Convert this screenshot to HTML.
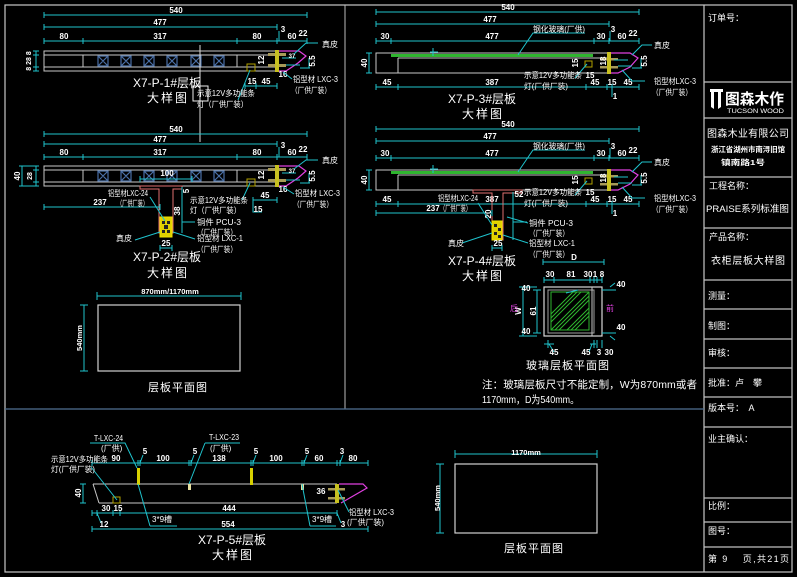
<!DOCTYPE html>
<html><head><meta charset="utf-8"><style>
html,body{margin:0;padding:0;background:#000;}
svg{display:block;}
text{font-family:"Liberation Sans","Noto Sans CJK SC",sans-serif;fill:#fff;}
.d{stroke:#1fc3cd;stroke-width:1;fill:none}
.dt{font-size:8px;font-weight:bold;text-anchor:middle}
.lb{font-size:8px}
.ti{font-size:12px;text-anchor:middle}
.g{stroke:#c8c8c8;fill:none;stroke-width:1}
.tb{font-size:9px}
.mg{stroke:#e040e0;fill:none;stroke-width:1.2}
.bx{stroke:#4a6fa5;fill:none;stroke-width:1.2}
</style></head><body>
<svg width="797" height="577" viewBox="0 0 797 577">
<rect x="0" y="0" width="797" height="577" fill="#000"/>
<!-- frame -->
<rect x="5" y="5" width="787" height="567" fill="none" stroke="#c8c8c8" stroke-width="1.2"/>
<path d="M704 5V572" stroke="#c8c8c8" stroke-width="1.2"/>
<path d="M345 5V409" stroke="#bcbcbc" stroke-width="1"/>
<path d="M5 409H704" stroke="#4f7092" stroke-width="1.2"/>

<!-- title block -->
<path d="M704 82H792M704 118H792M704 177H792M704 228H792M704 280H792M704 309H792M704 339H792M704 368H792M704 397H792M704 427H792M704 498H792M704 522H792M704 547H792" stroke="#c0c0c0" stroke-width="1.3"/>
<text class="tb" x="708" y="21">订单号：</text>
<g fill="#fff">
<rect x="710" y="89" width="13" height="3"/>
<path d="M711 92h3v17l-3 -2z"/>
<path d="M718 92h3v15l-3 2z"/>
</g>
<text x="725" y="104" style="font-size:15px;font-weight:bold" textLength="59" lengthAdjust="spacingAndGlyphs">图森木作</text>
<text x="727" y="113" style="font-size:6.5px" textLength="57" lengthAdjust="spacingAndGlyphs">TUCSON WOOD</text>
<text x="707" y="137" style="font-size:10px" textLength="82" lengthAdjust="spacing">图森木业有限公司</text>
<text x="711" y="152" style="font-size:7.5px;font-weight:bold" textLength="74" lengthAdjust="spacingAndGlyphs">浙江省湖州市南浔旧馆</text>
<text x="721" y="165" style="font-size:7.5px;font-weight:bold" textLength="44" lengthAdjust="spacingAndGlyphs">镇南路1号</text>
<text class="tb" x="709" y="189">工程名称：</text>
<text x="706" y="212" style="font-size:9.5px" textLength="83" lengthAdjust="spacingAndGlyphs">PRAISE系列标准图</text>
<text class="tb" x="709" y="240">产品名称：</text>
<text x="711" y="264" style="font-size:10px" textLength="74" lengthAdjust="spacing">衣柜层板大样图</text>
<text class="tb" x="708" y="299">测量：</text>
<text class="tb" x="708" y="329">制图：</text>
<text class="tb" x="708" y="356">审核：</text>
<text class="tb" x="708" y="386">批准：卢　攀</text>
<text class="tb" x="708" y="411">版本号：　A</text>
<text class="tb" x="708" y="442">业主确认：</text>
<text class="tb" x="708" y="509">比例：</text>
<text class="tb" x="708" y="534">图号：</text>
<text class="tb" x="708" y="562" textLength="81" lengthAdjust="spacing">第 9　 页,共21页</text>

<!-- ================= Drawing 1 ================= -->
<path class="d" d="M44 15H307M44 12v6M307 12v6"/>
<text class="dt" x="176" y="13">540</text>
<path class="d" d="M44 27H277M44 24v6M277 24v6"/>
<text class="dt" x="160" y="25">477</text>
<path class="d" d="M44 41H307M44 38v6M83 38v6M237 38v6M277 38v6M307 38v6M279 41V31"/>
<text class="dt" x="64" y="39">80</text><text class="dt" x="160" y="39">317</text><text class="dt" x="257" y="39">80</text><text class="dt" x="292" y="39">60</text><text class="dt" x="283" y="32">3</text><text class="dt" x="303" y="36">22</text>
<g id="p1">
<rect class="g" x="44" y="51" width="233" height="20"/>
<path class="g" d="M44 55H277M44 67H277M83 55V67M237 55V67"/>
<path class="bx" d="M98 56h10v10h-10zM98 56l10 10M108 56l-10 10M121 56h10v10h-10zM121 56l10 10M131 56l-10 10M144 56h10v10h-10zM144 56l10 10M154 56l-10 10M167 56h10v10h-10zM167 56l10 10M177 56l-10 10M191 56h10v10h-10zM191 56l10 10M201 56l-10 10M214 56h10v10h-10zM214 56l10 10M224 56l-10 10"/>
<rect x="268" y="53" width="18" height="3" fill="#a89a58"/>
<rect x="268" y="64" width="18" height="3" fill="#a89a58"/>
<rect x="275" y="50" width="4" height="22" fill="#c8c020"/>
<path class="mg" d="M279 51H299L306 56L298 63L286 71H279"/>
<rect x="247" y="64" width="8" height="7" fill="none" stroke="#b0a000"/>
<path class="d" d="M282 58h14M286 65h14M309 58v10M300 68h10"/>
<text class="dt" x="292" y="58" style="font-size:6px">37</text>
<text class="dt" x="262" y="62" transform="rotate(-90 262 60)">12</text>
<text class="dt" x="314" y="64" transform="rotate(-90 313 62)">5.5</text>
<text class="dt" x="283" y="77">16</text>
</g>
<path class="d" d="M36 51V71M33 51h6M33 55h6M33 67h6M33 71h6"/>
<text class="dt" x="30" y="62" transform="rotate(-90 30 61)" style="font-size:7px">8 28 8</text>
<path class="d" d="M245 86H277M245 83v6M256 83v6M277 83v6"/>
<text class="dt" x="252" y="84">15</text><text class="dt" x="266" y="84">45</text>
<path class="d" d="M318 43H306L294 54M292 79L283 72M250 70L238 100"/>
<path d="M200 45V142" stroke="#ddd"/>
<rect x="193" y="86" width="15" height="15" fill="none" stroke="#eee"/>
<text class="ti" x="167" y="87">X7-P-1#层板</text>
<text class="ti" x="168" y="102" style="letter-spacing:2px">大样图</text>
<text class="lb" x="197" y="96" textLength="58" lengthAdjust="spacingAndGlyphs">示意12V多功能条</text>
<text class="lb" x="197" y="107" textLength="51" lengthAdjust="spacingAndGlyphs">灯（厂供厂装）</text>
<text class="lb" x="293" y="82" textLength="45" lengthAdjust="spacingAndGlyphs">铝型材 LXC-3</text>
<text class="lb" x="291" y="93" textLength="40" lengthAdjust="spacingAndGlyphs">（厂供厂装）</text>
<text class="lb" x="322" y="47">真皮</text>

<!-- ================= Drawing 2 ================= -->
<path class="d" d="M44 134H307M44 131v6M307 131v6"/>
<text class="dt" x="176" y="132">540</text>
<path class="d" d="M44 144H277M44 141v6M277 141v6"/>
<text class="dt" x="160" y="142">477</text>
<path class="d" d="M44 157H307M44 154v6M83 154v6M237 154v6M277 154v6M307 154v6M279 157V147"/>
<text class="dt" x="64" y="155">80</text><text class="dt" x="160" y="155">317</text><text class="dt" x="257" y="155">80</text><text class="dt" x="292" y="155">60</text><text class="dt" x="283" y="148">3</text><text class="dt" x="303" y="152">22</text>
<use href="#p1" transform="translate(0,115)"/>
<path class="d" d="M22 166V186M36 166V186M19 166h20M19 186h20M33 170h6M33 182h6"/>
<text class="dt" x="18" y="178" transform="rotate(-90 18 176)">40</text>
<text class="dt" x="30" y="178" transform="rotate(-90 30 176)" style="font-size:7px">28</text>
<path class="d" d="M140 179H192M140 176v6M192 176v6"/>
<text class="dt" x="167" y="176">100</text>
<path d="M140 186H182V189H173V233H159V189H140Z" fill="none" stroke="#e07070"/>
<rect x="160" y="217" width="12" height="20" fill="#e0d000" stroke="#f0e000"/>
<path d="M162 221h3v3h-3zM167 221h3v3h-3zM164 225h4v4h-4zM162 230h3v3h-3zM167 230h3v3h-3z" fill="#222"/>
<path class="d" d="M44 207H160M44 204v6M160 204v6M160 248H172M160 245v6M172 245v6M182 187V233M182 222h13"/>
<text class="dt" x="100" y="205">237</text>
<text class="dt" x="166" y="246">25</text>
<text class="dt" x="188" y="194" transform="rotate(-90 187 192)">5</text>
<text class="dt" x="179" y="214" transform="rotate(-90 178 212)">38</text>
<path class="d" d="M150 197L165 221M135 240L160 232M195 239L173 232M242 200L250 183"/>
<path class="d" d="M253 200H277M253 197v6M277 197v6M253 200V212H262"/>
<text class="dt" x="265" y="198">45</text><text class="dt" x="258" y="212">15</text>
<text class="lb" x="108" y="196" textLength="40" lengthAdjust="spacingAndGlyphs">铝型材LXC-24</text>
<text class="lb" x="117" y="206" textLength="31" lengthAdjust="spacingAndGlyphs">（厂供厂装）</text>
<text class="lb" x="116" y="241">真皮</text>
<text class="lb" x="197" y="225" textLength="44" lengthAdjust="spacingAndGlyphs">铜件 PCU-3</text>
<text class="lb" x="197" y="235" textLength="40" lengthAdjust="spacingAndGlyphs">（厂供厂装）</text>
<text class="lb" x="197" y="241" textLength="46" lengthAdjust="spacingAndGlyphs">铝型材 LXC-1</text>
<text class="lb" x="197" y="252" textLength="40" lengthAdjust="spacingAndGlyphs">（厂供厂装）</text>
<text class="lb" x="190" y="203" textLength="58" lengthAdjust="spacingAndGlyphs">示意12V多功能条</text>
<text class="lb" x="190" y="213" textLength="51" lengthAdjust="spacingAndGlyphs">灯（厂供厂装）</text>
<text class="lb" x="322" y="163">真皮</text>
<text class="lb" x="295" y="196" textLength="45" lengthAdjust="spacingAndGlyphs">铝型材 LXC-3</text>
<text class="lb" x="293" y="207" textLength="40" lengthAdjust="spacingAndGlyphs">（厂供厂装）</text>
<path class="d" d="M318 160H306L294 169M294 194L283 187"/>
<text class="ti" x="167" y="261">X7-P-2#层板</text>
<text class="ti" x="168" y="277" style="letter-spacing:2px">大样图</text>

<!-- left plan -->
<path class="d" d="M97 296H241M97 292v8M241 292v8M84 305V371M80 305h8M80 371h8"/>
<text class="dt" x="170" y="294" style="font-size:7.5px">870mm/1170mm</text>
<text class="dt" x="80" y="340" transform="rotate(-90 80 338)" style="font-size:7.5px">540mm</text>
<rect x="98" y="305" width="142" height="66" fill="none" stroke="#d0d0d0" stroke-width="1.2"/>
<text class="ti" x="178" y="391" style="font-size:11px;letter-spacing:1px">层板平面图</text>

<!-- ================= Drawing 3 ================= -->
<g id="p3">
<path class="d" d="M376 12H639M376 9v6M639 9v6M376 24H609M376 21v6M609 21v6M376 41H639M376 38v6M391 38v6M594 38v6M609 38v6M639 38v6M610 41V31"/>
<text class="dt" x="508" y="10">540</text>
<text class="dt" x="490" y="22">477</text>
<text class="dt" x="385" y="39">30</text><text class="dt" x="492" y="39">477</text><text class="dt" x="601" y="39">30</text><text class="dt" x="622" y="39">60</text><text class="dt" x="613" y="32">3</text><text class="dt" x="633" y="36">22</text>
<rect class="g" x="376" y="53" width="232" height="20"/>
<path class="g" d="M398 58V73M398 58H608"/>
<rect x="391" y="54" width="202" height="3" fill="#2fb52f"/>
<path class="d" d="M430 52h8M433 48v8"/>
<rect x="600" y="58" width="18" height="2.5" fill="#a89a58"/>
<rect x="600" y="66" width="18" height="2.5" fill="#a89a58"/>
<rect x="607" y="52" width="4" height="22" fill="#c8c020"/>
<path class="mg" d="M611 53H630L638 58L630 67L618 73H611"/>
<rect x="585" y="61" width="7" height="6" fill="none" stroke="#b0a000"/>
<path class="d" d="M614 60h14M618 66h14M641 58v10M632 68h10"/>
<text class="dt" x="576" y="65" transform="rotate(-90 576 63)">15</text>
<text class="dt" x="590" y="78">15</text>
<text class="dt" x="604" y="63" transform="rotate(-90 604 61)">18</text>
<text class="dt" x="646" y="64" transform="rotate(-90 645 62)">5.5</text>
<path class="d" d="M376 87H639M376 84v6M398 84v6M586 84v6M607 84v6M612 84v6M639 84v6M612 87V97"/>
<text class="dt" x="387" y="85">45</text><text class="dt" x="492" y="85">387</text><text class="dt" x="595" y="85">45</text><text class="dt" x="612" y="85">15</text><text class="dt" x="628" y="85">45</text><text class="dt" x="615" y="99">1</text>
<path class="d" d="M585 33H533L518 55M575 78L587 64M652 45H642L632 55M645 81H632L622 70"/>
<text class="lb" x="533" y="32" textLength="52" lengthAdjust="spacingAndGlyphs">钢化玻璃(厂供)</text>
<text class="lb" x="524" y="78" textLength="58" lengthAdjust="spacingAndGlyphs">示意12V多功能条</text>
<text class="lb" x="524" y="89" textLength="44" lengthAdjust="spacingAndGlyphs">灯(厂供厂装)</text>
<text class="lb" x="654" y="48">真皮</text>
<text class="lb" x="654" y="84" textLength="42" lengthAdjust="spacingAndGlyphs">铝型材LXC-3</text>
<text class="lb" x="652" y="95" textLength="40" lengthAdjust="spacingAndGlyphs">（厂供厂装）</text>
<path class="d" d="M369 53V73M366 53h6M366 73h6"/>
<text class="dt" x="365" y="65" transform="rotate(-90 365 63)">40</text>
</g>
<text class="ti" x="482" y="103">X7-P-3#层板</text>
<text class="ti" x="483" y="118" style="letter-spacing:2px">大样图</text>

<!-- ================= Drawing 4 ================= -->
<use href="#p3" transform="translate(0,117)"/>
<path d="M473 190H522V193H503V240H492V193H473Z" fill="none" stroke="#e07070"/>
<rect x="492" y="221" width="10" height="19" fill="#e0d000" stroke="#f0e000"/>
<path d="M494 224h3v3h-3zM498 228h3v3h-3zM494 232h3v3h-3zM498 235h3v3h-3z" fill="#222"/>
<path class="d" d="M376 213H492M376 210v6M492 210v6M492 248H502M492 245v6M502 245v6M513 192V240M513 222h14"/>
<text class="dt" x="433" y="211">237</text>
<text class="dt" x="498" y="246">25</text>
<text class="dt" x="519" y="197">52</text>
<text class="dt" x="489" y="216" transform="rotate(-90 489 214)">20</text>
<path class="d" d="M478 203L492 225M462 243L492 233M528 223L507 217M528 243L503 235"/>
<text class="lb" x="438" y="201" textLength="40" lengthAdjust="spacingAndGlyphs">铝型材LXC-24</text>
<text class="lb" x="440" y="211" textLength="31" lengthAdjust="spacingAndGlyphs">（厂供厂装）</text>
<text class="lb" x="448" y="246">真皮</text>
<text class="lb" x="529" y="226" textLength="44" lengthAdjust="spacingAndGlyphs">铜件 PCU-3</text>
<text class="lb" x="529" y="236" textLength="40" lengthAdjust="spacingAndGlyphs">（厂供厂装）</text>
<text class="lb" x="529" y="246" textLength="46" lengthAdjust="spacingAndGlyphs">铝型材 LXC-1</text>
<text class="lb" x="529" y="257" textLength="40" lengthAdjust="spacingAndGlyphs">（厂供厂装）</text>
<text class="ti" x="482" y="265">X7-P-4#层板</text>
<text class="ti" x="483" y="280" style="letter-spacing:2px">大样图</text>

<!-- glass plan -->
<defs><clipPath id="hc"><rect x="551" y="292" width="38" height="38"/></clipPath></defs>
<path class="d" d="M543 262H604M543 259v6M604 259v6M544 280H602M544 277v6M554 277v6M590 277v6M594 277v6M597 277v6M602 277v6"/>
<text class="dt" x="574" y="260">D</text>
<text class="dt" x="550" y="277">30</text><text class="dt" x="571" y="277">81</text><text class="dt" x="588" y="277">30</text><text class="dt" x="595" y="277">1</text><text class="dt" x="602" y="277">8</text>
<rect x="544" y="287" width="58" height="49" fill="none" stroke="#d8d8d8" stroke-width="1.2"/>
<rect x="548" y="290" width="46" height="43" fill="none" stroke="#a0a0a0"/>
<path d="M592 287V336" stroke="#c8c8c8"/>
<rect x="551" y="292" width="38" height="38" fill="none" stroke="#2fb52f"/>
<g clip-path="url(#hc)" stroke="#2fb52f" stroke-width="1">
<path d="M535 330L573 292M539 330L577 292M543 330L581 292M551 330L589 292M555 330L593 292M559 330L597 292M567 330L605 292M571 330L609 292M575 330L613 292"/>
</g>
<path class="d" d="M523 287V336M537 290V333M519 287h18M519 336h18M533 290h8M533 333h8M566 293L578 290"/>
<text class="dt" x="519" y="313" transform="rotate(-90 519 311)">W</text>
<text class="dt" x="534" y="313" transform="rotate(-90 534 311)">61</text>
<text class="dt" x="526" y="291">40</text><text class="dt" x="526" y="334">40</text>
<text x="510" y="311" style="font-size:8px;fill:#e040e0">后</text>
<text x="606" y="311" style="font-size:8px;fill:#e040e0">前</text>
<path class="d" d="M602 290h14M602 333h14M610 287l5 -4M610 336l5 4"/>
<text class="dt" x="621" y="287">40</text><text class="dt" x="621" y="330">40</text>
<path class="d" d="M544 344h6M548 344h6M548 340v8M590 344h6M594 340v8M597 340v8M602 340v8M549 344l5 8M592 344l-3 8"/>
<text class="dt" x="554" y="355">45</text><text class="dt" x="586" y="355">45</text><text class="dt" x="599" y="355">3</text><text class="dt" x="609" y="355">30</text>
<text class="ti" x="568" y="369" style="font-size:11px;letter-spacing:1px">玻璃层板平面图</text>
<text x="482" y="388" style="font-size:10.5px" textLength="215" lengthAdjust="spacing">注：玻璃层板尺寸不能定制，W为870mm或者</text>
<text x="482" y="403" style="font-size:10.5px" textLength="97" lengthAdjust="spacingAndGlyphs">1170mm，D为540mm。</text>

<!-- ================= Drawing 5 ================= -->
<path class="d" d="M92 463H368M92 460v6M138 460v6M140 460v6M189 460v6M191 460v6M251 460v6M253 460v6M302 460v6M304 460v6M337 460v6M340 460v6M368 460v6M140 463l3 -8M191 463l3 -8M253 463l3 -8M304 463l3 -8M340 463l3 -8"/>
<text class="dt" x="116" y="461">90</text><text class="dt" x="145" y="454">5</text><text class="dt" x="163" y="461">100</text><text class="dt" x="195" y="454">5</text><text class="dt" x="219" y="461">138</text><text class="dt" x="256" y="454">5</text><text class="dt" x="276" y="461">100</text><text class="dt" x="307" y="454">5</text><text class="dt" x="319" y="461">60</text><text class="dt" x="342" y="454">3</text><text class="dt" x="353" y="461">80</text>
<path d="M93 484H337M99 503H337M93 484L99 503" fill="none" stroke="#c8c8c8"/>
<rect x="137" y="468" width="3" height="17" fill="#d8d000"/>
<rect x="250" y="468" width="3" height="17" fill="#d8d000"/>
<rect x="188" y="484" width="3" height="6" fill="#e8e0a0"/>
<rect x="301" y="484" width="3" height="6" fill="#e8e0a0"/>
<rect x="328" y="488" width="17" height="2.5" fill="#a89a58"/>
<rect x="328" y="497" width="17" height="2.5" fill="#a89a58"/>
<rect x="335" y="484" width="4" height="19" fill="#c8c020"/>
<path class="mg" d="M339 484H363L367 488L341 503"/>
<rect x="113" y="497" width="7" height="6" fill="none" stroke="#b0a000"/>
<path class="d" d="M83 484V503M80 484h6M80 503h6"/>
<text class="dt" x="79" y="495" transform="rotate(-90 79 493)">40</text>
<text class="dt" x="321" y="494">36</text>
<path class="d" d="M92 513H337M92 510v6M97 510v6M113 510v6M120 510v6M337 510v6M97 513l4 10M337 513l4 10"/>
<text class="dt" x="106" y="511">30</text><text class="dt" x="118" y="511">15</text><text class="dt" x="229" y="511">444</text>
<text class="dt" x="104" y="527">12</text><text class="dt" x="343" y="527">3</text>
<path class="d" d="M92 529H368M92 526v6M368 526v6"/>
<text class="dt" x="228" y="527">554</text>
<path class="d" d="M150 526H177M150 526L138 484M310 526H336M310 526L302 484M90 443H125L137 468M205 443H240M205 443L189 484M91 467L117 500M349 512L338 490"/>
<text class="lb" x="152" y="522">3*9槽</text>
<text class="lb" x="312" y="522">3*9槽</text>
<text class="lb" x="94" y="441" textLength="29" lengthAdjust="spacingAndGlyphs">T-LXC-24</text>
<text class="lb" x="101" y="451">(厂供)</text>
<text class="lb" x="209" y="440" textLength="30" lengthAdjust="spacingAndGlyphs">T-LXC-23</text>
<text class="lb" x="210" y="451">(厂供)</text>
<text class="lb" x="51" y="462" textLength="57" lengthAdjust="spacingAndGlyphs">示意12V多功能条</text>
<text class="lb" x="51" y="472" textLength="44" lengthAdjust="spacingAndGlyphs">灯(厂供厂装)</text>
<text class="lb" x="349" y="515" textLength="45" lengthAdjust="spacingAndGlyphs">铝型材 LXC-3</text>
<text class="lb" x="347" y="525" textLength="37" lengthAdjust="spacingAndGlyphs">(厂供厂装)</text>
<text class="ti" x="232" y="544">X7-P-5#层板</text>
<text class="ti" x="233" y="559" style="letter-spacing:2px">大样图</text>

<!-- right plan -->
<path class="d" d="M455 454H597M455 450v8M597 450v8M440 464V533M436 464h8M436 533h8"/>
<text class="dt" x="526" y="455" style="font-size:7.5px">1170mm</text>
<text class="dt" x="438" y="500" transform="rotate(-90 438 498)" style="font-size:7.5px">540mm</text>
<rect x="455" y="464" width="142" height="69" fill="none" stroke="#d0d0d0" stroke-width="1.2"/>
<text class="ti" x="534" y="552" style="font-size:11px;letter-spacing:1px">层板平面图</text>
</svg>
</body></html>
